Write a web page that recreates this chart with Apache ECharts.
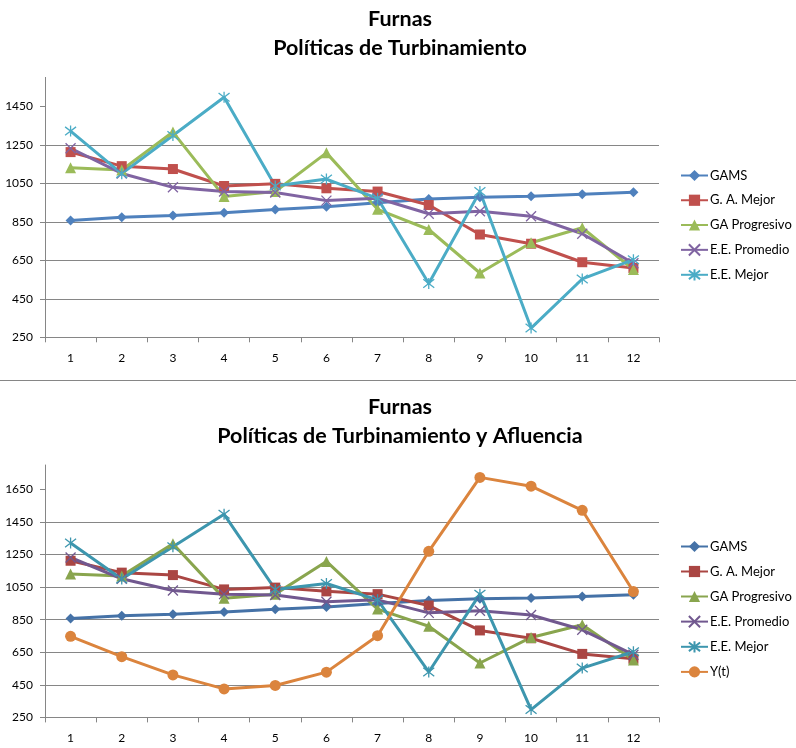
<!DOCTYPE html>
<html>
<head>
<meta charset="utf-8">
<title>Furnas</title>
<script src="https://cdn.jsdelivr.net/npm/echarts@6/dist/echarts.min.js"></script>
<style>
  html, body { margin: 0; padding: 0; background: #fff; }
  #top { width: 796px; height: 380px; border-bottom: 1px solid #868686; }
  #bottom { width: 796px; height: 367px; }
</style>
</head>
<body>
<div id="top"></div>
<div id="bottom"></div>
<script>
// meses 1..12
const months = ['1', '2', '3', '4', '5', '6', '7', '8', '9', '10', '11', '12'];

// politicas de turbinamiento
const gams = [857, 874, 883, 897, 914, 928, 949, 968, 978, 983, 993, 1003];
const gaMejor = [1212, 1139, 1124, 1036, 1047, 1024, 1007, 937, 784, 736, 640, 610];
const gaProgresivo = [1131, 1119, 1316, 981, 1007, 1208, 915, 810, 584, 741, 819, 602];
const eePromedio = [1232, 1101, 1029, 1007, 1002, 960, 972, 892, 905, 879, 788, 635];
const eeMejor = [1321, 1100, 1298, 1497, 1036, 1072, 972, 529, 1007, 298, 553, 653];

// afluencia
const afluencia = [748, 623, 511, 425, 446, 528, 752, 1270, 1724, 1670, 1522, 1023];

const topTicks = [250, 450, 650, 850, 1050, 1250, 1450];
const bottomTicks = [250, 450, 650, 850, 1050, 1250, 1450, 1650];

const FONT = 'Lato, "Noto Sans", sans-serif';
const GRID_COLOR = '#868686';
const X_MARK = 'path://M0,0L10,10M10,0L0,10';
const STAR_MARK = 'path://M0,0L10,10M10,0L0,10M5,-1.5L5,11.5';

const topColors = ['#4F81BD', '#C0504D', '#9BBB59', '#8064A2', '#4BACC6'];
const bottomColors = ['#4572A7', '#AA4643', '#89A54E', '#71588F', '#3D96AE', '#DB843D'];

function lineSeries(name, data, color, symbol, size, stroked) {
    return {
        name: name,
        type: 'line',
        data: data,
        color: color,
        symbol: symbol,
        symbolSize: size,
        showSymbol: true,
        lineStyle: { width: 3, color: color },
        itemStyle: stroked
            ? { color: color, borderColor: color, borderWidth: 1.3 }
            : { color: color, borderWidth: 0 },
        emphasis: { disabled: true },
        animation: false
    };
}

function buildOption(title, titleTop, gridTop, gridHeight, maxY, ticks, legendTop, legendGap, colors, withY) {
    const series = [
        lineSeries('GAMS', gams, colors[0], 'diamond', 10, false),
        lineSeries('G. A. Mejor', gaMejor, colors[1], 'rect', 10, false),
        lineSeries('GA Progresivo', gaProgresivo, colors[2], 'triangle', 11, false),
        lineSeries('E.E. Promedio', eePromedio, colors[3], X_MARK, 10, true),
        lineSeries('E.E. Mejor', eeMejor, colors[4], STAR_MARK, 11, true)
    ];
    if (withY) {
        series.push(lineSeries('Y(t)', afluencia, colors[5], 'circle', 11, false));
    }
    return {
        backgroundColor: '#fff',
        textStyle: { fontFamily: FONT },
        title: {
            text: title,
            left: 395,
            top: titleTop,
            textAlign: 'center',
            textStyle: { fontFamily: FONT, fontSize: 21.5, fontWeight: 'bold', color: '#000', lineHeight: 28.5 }
        },
        legend: {
            orient: 'vertical',
            left: 680,
            top: legendTop,
            padding: 0,
            itemWidth: 27,
            itemHeight: 14,
            itemGap: legendGap,
            selectedMode: false,
            textStyle: { fontFamily: FONT, fontSize: 13, color: '#000', padding: [0, 0, 0, -3] },
            data: series.map(s => s.name)
        },
        grid: { left: 45, width: 614, top: gridTop, height: gridHeight, containLabel: false },
        xAxis: {
            type: 'category',
            data: months,
            boundaryGap: true,
            axisLine: { lineStyle: { color: GRID_COLOR, width: 1 } },
            axisTick: { show: true, length: 5, lineStyle: { color: GRID_COLOR } },
            axisLabel: { fontFamily: FONT, fontSize: 12, color: '#000', margin: 15 },
            splitLine: { show: false }
        },
        yAxis: {
            type: 'value',
            min: 250,
            max: maxY,
            interval: 200,
            axisLine: { show: true, lineStyle: { color: GRID_COLOR, width: 1 } },
            axisTick: { show: true, length: 5, lineStyle: { color: GRID_COLOR }, customValues: ticks },
            axisLabel: {
                fontFamily: FONT, fontSize: 12, color: '#000', margin: 12,
                customValues: ticks,
                formatter: v => String(v)
            },
            splitLine: { show: true, showMaxLine: false, lineStyle: { color: GRID_COLOR, width: 1 } }
        },
        series: series
    };
}

const chartTop = echarts.init(document.getElementById('top'));
chartTop.setOption(buildOption('Furnas\nPolíticas de Turbinamiento', 0, 77.4, 259.9, 1600, topTicks, 169, 11.75, topColors, false));

const chartBottom = echarts.init(document.getElementById('bottom'));
chartBottom.setOption(buildOption('Furnas\nPolíticas de Turbinamiento y Afluencia', 7, 84, 252.4, 1800, bottomTicks, 159, 12, bottomColors, true));
</script>
</body>
</html>
